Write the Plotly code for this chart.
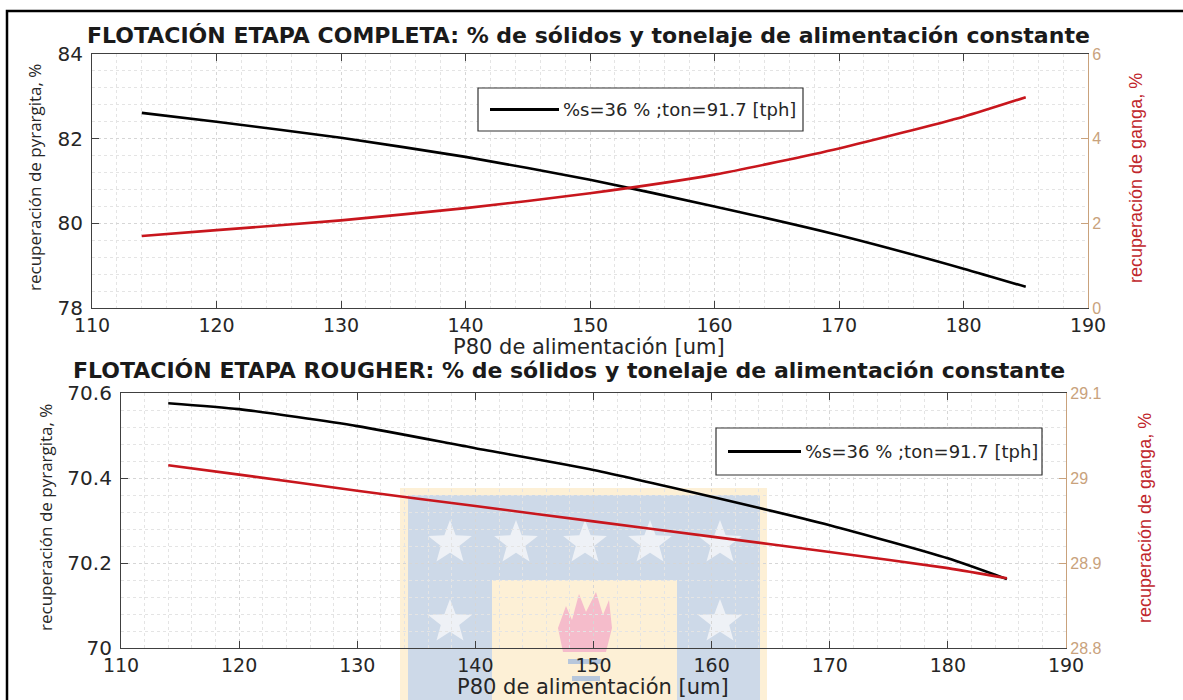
import plotly.graph_objects as go
import math

W, H = 1183, 700

# ---------------- data ----------------
x_top = [114, 120, 130, 140, 150, 160, 170, 180, 185]
pyr_top = [82.61, 82.40, 82.02, 81.57, 81.03, 80.40, 79.72, 78.93, 78.50]
gan_top = [1.70, 1.84, 2.07, 2.36, 2.71, 3.15, 3.77, 4.52, 4.98]

x_bot = [114, 120, 130, 140, 150, 160, 170, 180, 185]
pyr_bot = [70.576, 70.562, 70.522, 70.470, 70.419, 70.356, 70.289, 70.211, 70.162]
gan_bot = [29.015, 29.004, 28.985, 28.967, 28.949, 28.931, 28.913, 28.894, 28.882]

legend_label = "%s=36 % ;ton=91.7 [tph]"
title_top = "FLOTACIÓN ETAPA COMPLETA: % de sólidos y tonelaje de alimentación constante"
title_bot = "FLOTACIÓN ETAPA ROUGHER: % de sólidos y tonelaje de alimentación constante"
xlabel = "P80 de alimentación [um]"
ylabel_left = "recuperación de pyrargita, %"
ylabel_right = "recuperación de ganga, %"

# ---------------- helpers ----------------
def px(x):
    return x / W

def py(y):
    return 1 - y / H

AX = "#262626"
TAN = "#c9a27c"
RED = "#c8161d"
GRID = "#d6d6d6"
MINOR = "#e4e4e4"
FONT = "DejaVu Sans"

fig = go.Figure()

fig.add_trace(go.Scatter(x=x_top, y=pyr_top, mode="lines", line=dict(color="black", width=2.6, shape="spline", smoothing=0.6),
                         xaxis="x", yaxis="y", showlegend=False))
fig.add_trace(go.Scatter(x=x_top, y=gan_top, mode="lines", line=dict(color=RED, width=2.6, shape="spline", smoothing=0.6),
                         xaxis="x", yaxis="y2", showlegend=False))
fig.add_trace(go.Scatter(x=x_bot, y=pyr_bot, mode="lines", line=dict(color="black", width=2.6, shape="spline", smoothing=0.6),
                         xaxis="x2", yaxis="y3", showlegend=False))
fig.add_trace(go.Scatter(x=x_bot, y=gan_bot, mode="lines", line=dict(color=RED, width=2.6, shape="spline", smoothing=0.6),
                         xaxis="x2", yaxis="y4", showlegend=False))

def xax(domain, anchor):
    return dict(domain=domain, anchor=anchor, range=[110, 190], dtick=10, tick0=110, automargin=False,
                showline=True, linecolor="#404040", linewidth=1.2, mirror="ticks",
                ticks="inside", ticklen=7, tickcolor="#404040",
                showgrid=True, gridcolor=GRID, gridwidth=1, griddash="dot",
                minor=dict(dtick=2, showgrid=True, gridcolor=MINOR, griddash="dot", ticks=""),
                tickfont=dict(family=FONT, size=19, color=AX), zeroline=False)

def yleft(domain, anchor, rng, dtick, mdtick):
    return dict(domain=domain, anchor=anchor, range=rng, dtick=dtick, tick0=rng[0], automargin=False,
                showline=True, linecolor="#404040", linewidth=1.2,
                ticks="inside", ticklen=7, tickcolor="#404040",
                showgrid=True, gridcolor=GRID, gridwidth=1, griddash="dot",
                minor=dict(dtick=mdtick, showgrid=True, gridcolor=MINOR, griddash="dot", ticks=""),
                tickfont=dict(family=FONT, size=20, color=AX), zeroline=False,
                ticklabelstandoff=4)

def yright(overlay, anchor, rng, dtick, domain):
    return dict(overlaying=overlay, anchor=anchor, side="right", range=rng, dtick=dtick, tick0=rng[0],
                domain=domain, automargin=False,
                showline=True, linecolor=TAN, linewidth=1.2, ticks="inside", ticklen=7, tickcolor=TAN,
                showgrid=False, zeroline=False,
                tickfont=dict(family="Liberation Sans", size=16, color=TAN))

top_dx = [px(92), px(1088)]
top_dy = [py(308), py(54)]
bot_dx = [px(121), px(1066)]
bot_dy = [py(648), py(393)]

fig.update_layout(
    template="none",
    width=W, height=H,
    margin=dict(l=0, r=0, t=0, b=0, pad=0, autoexpand=False),
    paper_bgcolor="white", plot_bgcolor="rgba(0,0,0,0)",
    xaxis=xax(top_dx, "y"),
    yaxis=yleft(top_dy, "x", [78, 84], 2, 0.4),
    yaxis2=yright("y", "x", [0, 6], 2, top_dy),
    xaxis2=xax(bot_dx, "y3"),
    yaxis3=yleft(bot_dy, "x2", [70, 70.6], 0.2, 0.04),
    yaxis4=yright("y3", "x2", [28.8, 29.1], 0.1, bot_dy),
    showlegend=False,
)

shapes = []
annots = []

# outer frame
shapes.append(dict(type="rect", xref="paper", yref="paper", x0=px(7), x1=px(1195), y0=py(712), y1=py(11),
                   line=dict(color="black", width=2.5), fillcolor="rgba(0,0,0,0)", layer="above"))

# watermark (university logo)
def rect(x0, y0, x1, y1, color):
    return dict(type="rect", xref="paper", yref="paper", x0=px(x0), x1=px(x1), y0=py(y1), y1=py(y0),
                line=dict(width=0), fillcolor=color, layer="below")

shapes.append(rect(400, 488, 767, 705, "#fdf0d6"))
shapes.append(rect(408, 495, 760, 705, "#cdd9e8"))
shapes.append(rect(492, 580, 677, 705, "#fdf0d6"))

def star_path(cx, cy, r):
    pts = []
    for i in range(10):
        ang = -math.pi / 2 + i * math.pi / 5
        rr = r if i % 2 == 0 else r * 0.42
        pts.append((px(cx + rr * math.cos(ang)), py(cy + rr * math.sin(ang))))
    return "M " + " L ".join(f"{a:.5f},{b:.5f}" for a, b in pts) + " Z"

for cx, cy in [(450, 543), (516, 543), (585, 543), (650, 543), (720, 543), (450, 622), (720, 622)]:
    shapes.append(dict(type="path", xref="paper", yref="paper", path=star_path(cx, cy, 23),
                       line=dict(width=0), fillcolor="#eef1f6", layer="below"))

flame = [(563, 652), (558, 628), (566, 606), (572, 620), (579, 594), (586, 612), (596, 592), (603, 615), (609, 600), (612, 628), (606, 652)]
shapes.append(dict(type="path", xref="paper", yref="paper",
                   path="M " + " L ".join(f"{px(a):.5f},{py(b):.5f}" for a, b in flame) + " Z",
                   line=dict(width=0), fillcolor="#f5bccb", layer="below"))
shapes.append(rect(568, 659, 603, 664, "#b7c7dc"))
shapes.append(rect(572, 676, 600, 681, "#b7c7dc"))

# legends (manual boxes)
def legend(x0, y0, x1, y1, lx0, lx1, tx):
    shapes.append(dict(type="rect", xref="paper", yref="paper", x0=px(x0), x1=px(x1), y0=py(y1), y1=py(y0),
                       line=dict(color="#333333", width=1.2), fillcolor="white", layer="above"))
    ym = (y0 + y1) / 2
    shapes.append(dict(type="line", xref="paper", yref="paper", x0=px(lx0), x1=px(lx1), y0=py(ym), y1=py(ym),
                       line=dict(color="black", width=3), layer="above"))
    annots.append(dict(xref="paper", yref="paper", x=px(tx), y=py(ym), xanchor="left", yanchor="middle",
                       text=legend_label, showarrow=False, font=dict(family=FONT, size=18, color=AX)))

legend(478, 88, 803, 131, 490, 559, 561)
legend(716, 428, 1042, 475, 728, 801, 803)

# titles
annots.append(dict(xref="paper", yref="paper", x=px(588), y=py(35), xanchor="center", yanchor="middle",
                   text="<b>" + title_top + "</b>", showarrow=False, font=dict(family=FONT, size=22, color="#1a1a1a")))
annots.append(dict(xref="paper", yref="paper", x=px(569), y=py(370), xanchor="center", yanchor="middle",
                   text="<b>" + title_bot + "</b>", showarrow=False, font=dict(family=FONT, size=22, color="#1a1a1a")))

# x labels
for cx, cy in [(589, 347), (593, 687)]:
    annots.append(dict(xref="paper", yref="paper", x=px(cx), y=py(cy), xanchor="center", yanchor="middle",
                       text=xlabel, showarrow=False, font=dict(family=FONT, size=21, color=AX)))

# y labels
for cx, cy in [(35, 178), (45, 518)]:
    annots.append(dict(xref="paper", yref="paper", x=px(cx), y=py(cy), xanchor="center", yanchor="middle",
                       text=ylabel_left, textangle=-90, showarrow=False, font=dict(family="Open Sans", size=17, color=AX)))
for cx, cy in [(1136, 178), (1145, 518)]:
    annots.append(dict(xref="paper", yref="paper", x=px(cx), y=py(cy), xanchor="center", yanchor="middle",
                       text=ylabel_right, textangle=-90, showarrow=False,
                       font=dict(family="Liberation Sans Narrow, Liberation Sans", size=18, color="#c0262c")))

fig.update_layout(shapes=shapes, annotations=annots)
fig.write_html("out.html", config={"displayModeBar": False},
               post_script="document.body.style.margin='0px';")
